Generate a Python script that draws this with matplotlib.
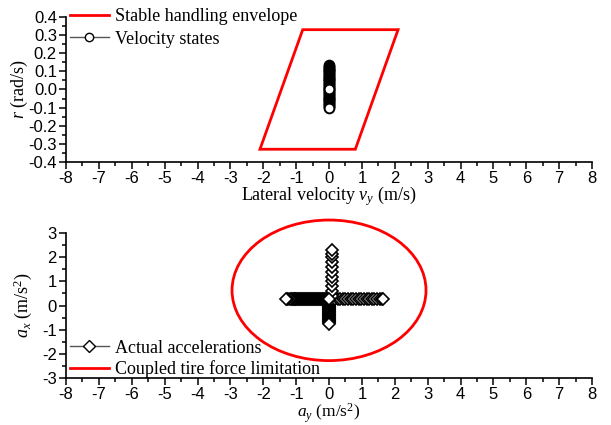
import matplotlib
matplotlib.use("Agg")
import matplotlib.pyplot as plt
from matplotlib.patches import Ellipse, Polygon
from matplotlib.lines import Line2D
from matplotlib.ticker import MultipleLocator, FormatStrFormatter

# ---------------- data ----------------
# Stable handling envelope (parallelogram vertices, vy [m/s], r [rad/s])
env_vy = [-2.1, 0.8, 2.1, -0.8]
env_r = [-0.33, -0.33, 0.33, 0.33]

# Velocity states
state_vy = [0.00, 0.01, 0.00, -0.01, 0.00, 0.01, 0.01, 0.00, -0.01, 0.00,
            0.00, 0.01, 0.00, -0.01, 0.00, 0.00, 0.01, 0.00, -0.01, 0.00,
            0.00, 0.01, 0.00, -0.01, 0.00, 0.00, 0.01, 0.00, -0.01, 0.00,
            0.00, 0.01, 0.00, -0.01, 0.00, 0.00, 0.01, 0.00, -0.01, 0.00,
            0.00, 0.01, 0.00, -0.01, 0.00, 0.00, 0.01, 0.00]
state_r = [0.135, 0.130, 0.125, 0.120, 0.115, 0.110, 0.105, 0.100, 0.095, 0.090,
           0.085, 0.080, 0.075, 0.070, 0.065, 0.060, 0.055, 0.050, 0.045, 0.040,
           0.035, 0.030, 0.025, 0.020, 0.015, 0.010, 0.005, -0.005, -0.010, -0.015,
           -0.020, -0.025, -0.030, -0.035, -0.040, -0.045, -0.050, -0.055, -0.060, -0.065,
           -0.070, -0.075, -0.080, -0.085, -0.090, -0.095, -0.100, 0.000]

# Coupled tire force limitation (ellipse)
lim_center_ay = 0.0
lim_center_ax = 0.63
lim_width = 5.9
lim_height = 5.82

# Actual accelerations
acc_ay = [0.00, 0.00, 0.00, 0.00, 0.00, 0.00, 0.00, 0.00, 0.00, 0.00,
          0.00, 0.00, 0.00, 0.00, 0.00, 0.00, 0.00, 0.00, 0.00, 0.00,
          0.00, 0.00, 0.00, 0.00, 0.00, 0.00, 0.00, 0.00, 0.00, 0.00,
          0.00, 0.00, 0.00, 0.00, 0.00, 0.00, 0.00, 0.00, 0.00, 0.00,
          -0.03, -0.06, -0.09, -0.12, -0.15, -0.18, -0.21, -0.24, -0.27, -0.30,
          -0.33, -0.36, -0.39, -0.42, -0.45, -0.48, -0.51, -0.54, -0.57, -0.60,
          -0.63, -0.66, -0.69, -0.72, -0.75, -0.78, -0.81, -0.84, -0.87, -0.90,
          -0.93, -0.96, -0.99, -1.02, -1.05, -1.08, -1.11, -1.14, -1.17, -1.20,
          -1.24, -1.28, -1.32,
          0.10, 0.18, 0.26, 0.34, 0.42, 0.50, 0.58, 0.66, 0.74, 0.82,
          0.90, 0.98, 1.06, 1.14, 1.22, 1.30, 1.38, 1.46, 1.54, 1.60, 1.65,
          0.08, 0.08, 0.08, 0.08, 0.08, 0.08, 0.08, 0.08, 0.08, 0.08, 0.08,
          0.00]
acc_ax = [0.22, 0.20, 0.17, 0.15, 0.12, 0.10, 0.07, 0.05, 0.02, 0.00,
          -0.03, -0.05, -0.08, -0.10, -0.13, -0.15, -0.18, -0.20, -0.23, -0.25,
          -0.28, -0.30, -0.33, -0.35, -0.38, -0.40, -0.43, -0.45, -0.48, -0.50,
          -0.53, -0.55, -0.58, -0.60, -0.63, -0.65, -0.68, -0.70, -0.73, -0.75,
          0.25, 0.25, 0.25, 0.25, 0.25, 0.25, 0.25, 0.25, 0.25, 0.25,
          0.25, 0.25, 0.25, 0.25, 0.25, 0.25, 0.25, 0.25, 0.25, 0.25,
          0.25, 0.25, 0.25, 0.25, 0.25, 0.25, 0.25, 0.25, 0.25, 0.25,
          0.25, 0.25, 0.25, 0.25, 0.25, 0.25, 0.25, 0.25, 0.25, 0.25,
          0.25, 0.25, 0.25,
          0.25, 0.25, 0.25, 0.25, 0.25, 0.25, 0.25, 0.25, 0.25, 0.25,
          0.25, 0.25, 0.25, 0.25, 0.25, 0.25, 0.25, 0.25, 0.25, 0.25, 0.25,
          0.40, 0.60, 0.80, 1.00, 1.20, 1.40, 1.60, 1.80, 2.00, 2.15, 2.30,
          0.25]

# ---------------- style ----------------
SERIF = "Liberation Serif"
SANS = "Liberation Sans"
plt.rcParams["font.family"] = SANS
plt.rcParams["axes.unicode_minus"] = False
plt.rcParams["mathtext.fontset"] = "custom"
plt.rcParams["mathtext.it"] = "Liberation Serif:italic"
plt.rcParams["mathtext.rm"] = "Liberation Serif"

fig = plt.figure(figsize=(6.11, 4.25), dpi=100)
ax1 = fig.add_axes([0.108, 0.619, 0.861, 0.341])
ax2 = fig.add_axes([0.108, 0.1106, 0.861, 0.341])

for ax in (ax1, ax2):
    ax.spines["top"].set_visible(False)
    ax.spines["right"].set_visible(False)
    for s in ("left", "bottom"):
        ax.spines[s].set_linewidth(1.2)
    ax.set_xlim(-8, 8)
    ax.xaxis.set_major_locator(MultipleLocator(1))
    ax.xaxis.set_minor_locator(MultipleLocator(0.5))
    ax.tick_params(which="major", direction="out", length=5, width=1.1, labelsize=12)
    ax.tick_params(which="minor", direction="out", length=3, width=1.1)
    ax.tick_params(axis="x", pad=1.5)
    ax.tick_params(axis="y", pad=1.5)

# ---- top panel ----
ax1.set_ylim(-0.4, 0.4)
ax1.yaxis.set_major_locator(MultipleLocator(0.1))
ax1.yaxis.set_minor_locator(MultipleLocator(0.05))
ax1.yaxis.set_major_formatter(FormatStrFormatter("%.1f"))
env = Polygon(list(zip(env_vy, env_r)), closed=True, fill=False,
              edgecolor="#ff0000", linewidth=2)
ax1.add_patch(env)
ax1.plot(state_vy, state_r, color="#555555", linewidth=1, marker="o",
         markersize=7, markerfacecolor="white", markeredgecolor="black",
         markeredgewidth=1.4, zorder=3)
ax1.set_xlabel(r"Lateral velocity $v_y$ (m/s)", fontfamily=SERIF, fontsize=13, labelpad=-1)
ax1.set_ylabel(r"$r$ (rad/s)", fontfamily=SERIF, fontsize=13, labelpad=-1)
h1 = [Line2D([], [], color="#ff0000", linewidth=2),
      Line2D([], [], color="#555555", linewidth=1, marker="o", markersize=6,
             markerfacecolor="white", markeredgecolor="black")]
ax1.legend(h1, ["Stable handling envelope", "Velocity states"], loc="upper left",
           bbox_to_anchor=(0.0, 1.085), frameon=False, prop={"family": SERIF, "size": 13},
           handlelength=2.2, handletextpad=0.3, labelspacing=0.3, borderaxespad=0.1,
           borderpad=0.1)

# ---- bottom panel ----
ax2.set_ylim(-3, 3)
ax2.yaxis.set_major_locator(MultipleLocator(1))
ax2.yaxis.set_minor_locator(MultipleLocator(0.5))
ell = Ellipse((lim_center_ay, lim_center_ax), lim_width, lim_height, fill=False,
              edgecolor="#ff0000", linewidth=2, clip_on=False)
ax2.add_patch(ell)
ax2.plot(acc_ay, acc_ax, color="#333333", linewidth=1, marker="D",
         markersize=6.5, markerfacecolor="white", markeredgecolor="black",
         markeredgewidth=1.2, zorder=3, clip_on=False)
ax2.set_xlabel(r"$a_y$ (m/s$^2$)", fontfamily=SERIF, fontsize=12.5, labelpad=-0.3)
ax2.set_ylabel(r"$a_x$ (m/s$^2$)", fontfamily=SERIF, fontsize=13, labelpad=5.5)
h2 = [Line2D([], [], color="#555555", linewidth=1, marker="D", markersize=6,
             markerfacecolor="white", markeredgecolor="black"),
      Line2D([], [], color="#ff0000", linewidth=2)]
ax2.legend(h2, ["Actual accelerations", "Coupled tire force limitation"], loc="lower left",
           bbox_to_anchor=(0.0, -0.025), frameon=False, prop={"family": SERIF, "size": 13},
           handlelength=2.2, handletextpad=0.3, labelspacing=0.2, borderaxespad=0.1,
           borderpad=0.1)

fig.savefig("out.png", dpi=100)
